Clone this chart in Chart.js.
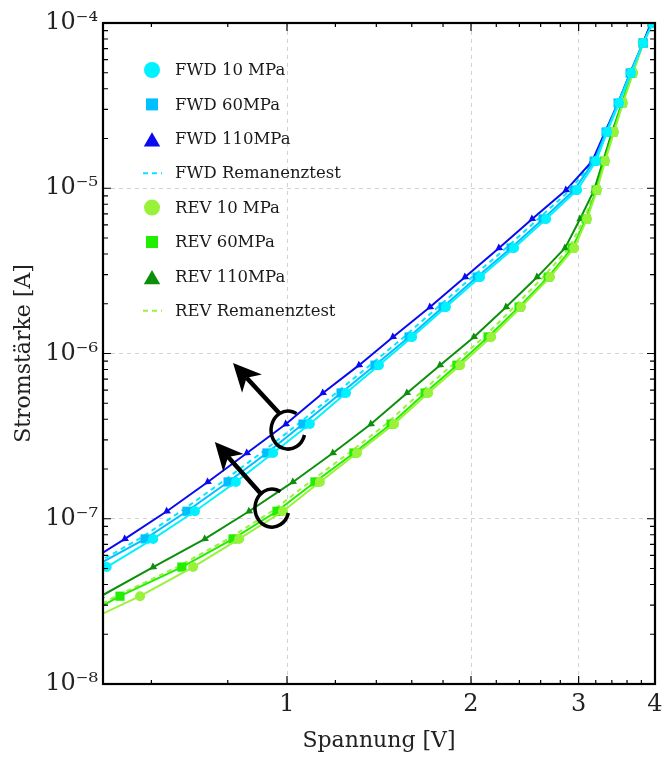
<!DOCTYPE html>
<html>
<head>
<meta charset="utf-8">
<script src="https://cdn.jsdelivr.net/npm/chart.js@4"></script>
<style>
  html, body { margin: 0; padding: 0; background: #fff; }
  canvas { display: block; }
</style>
</head>
<body>
<canvas id="kennlinie" width="662" height="760"></canvas>
<script>
// Stromstufen [A], gelten fuer alle Messreihen
const strom = [2.27e-8, 3.4e-8, 5.1e-8, 7.55e-8, 1.11e-7, 1.67e-7, 2.5e-7, 3.74e-7, 5.77e-7, 8.5e-7,
  1.26e-6, 1.91e-6, 2.9e-6, 4.35e-6, 6.52e-6, 9.75e-6, 1.46e-5, 2.19e-5, 3.28e-5, 4.98e-5, 7.57e-5, 1.0e-4];

// Spannung [V] je Messreihe (null = kein Messpunkt)
const fwd10  = [null, 0.43, 0.507, 0.604, 0.707, 0.825, 0.949, 1.090, 1.249, 1.414, 1.602, 1.820, 2.070, 2.352, 2.654, 2.983, 3.204, 3.340, 3.494, 3.656, 3.825, 3.972];
const fwd60  = [null, 0.41, 0.482, 0.586, 0.686, 0.801, 0.927, 1.062, 1.226, 1.393, 1.584, 1.800, 2.046, 2.326, 2.624, 2.950, 3.180, 3.327, 3.481, 3.642, 3.825, 3.958];
const fwd110 = [null, 0.39, 0.458, 0.543, 0.636, 0.742, 0.860, 0.996, 1.145, 1.312, 1.491, 1.714, 1.956, 2.223, 2.518, 2.861, 3.157, 3.315, 3.481, 3.642, 3.825, 3.942];
const fwdRem = [null, 0.40, 0.475, 0.573, 0.671, 0.783, 0.907, 1.042, 1.203, 1.367, 1.554, 1.766, 2.008, 2.283, 2.575, 2.906, 3.168, 3.315, 3.481, 3.642, 3.825, 3.958];
const rev10  = [0.455, 0.575, 0.702, 0.835, 0.985, 1.132, 1.302, 1.497, 1.702, 1.920, 2.158, 2.415, 2.694, 2.950, 3.097, 3.216, 3.315, 3.428, 3.546, 3.684, 3.825, 3.958];
const rev60  = [0.435, 0.533, 0.673, 0.816, 0.963, 1.111, 1.287, 1.480, 1.682, 1.897, 2.133, 2.397, 2.674, 2.928, 3.086, 3.204, 3.303, 3.415, 3.533, 3.669, 3.825, 3.958];
const rev110 = [0.42, 0.496, 0.604, 0.734, 0.867, 1.023, 1.189, 1.372, 1.572, 1.780, 2.023, 2.283, 2.566, 2.851, 3.016, 3.180, 3.290, 3.403, 3.533, 3.669, 3.825, 3.942];
const revRem = [0.43, 0.525, 0.661, 0.801, 0.945, 1.090, 1.263, 1.452, 1.651, 1.862, 2.101, 2.352, 2.624, 2.894, 3.063, 3.192, 3.290, 3.403, 3.533, 3.669, 3.825, 3.958];

// Achsenbeschriftung
const xHaupt = [1, 2, 3, 4];
const xTexte = ['1', '2', '3', '4'];
const yHaupt = [1e-8, 1e-7, 1e-6, 1e-5, 1e-4];
const yTexte = ['10\u207B\u2078', '10\u207B\u2077', '10\u207B\u2076', '10\u207B\u2075', '10\u207B\u2074'];

// Pfeile mit Schlaufe (Spitze, Schaftende, Mittelpunkt der Schlaufe) in Datenkoordinaten
const pfeile = [
  { spitze: [0.816, 8.76e-7], ende: [0.974, 4.31e-7], schlaufe: [1.004, 3.44e-7] },
  { spitze: [0.762, 2.91e-7], ende: [0.910, 1.39e-7], schlaufe: [0.945, 1.16e-7] }
];

const SCHRIFT = '"DejaVu Serif", "Liberation Serif", serif';

function punkte(spannung) {
  const out = [];
  spannung.forEach((v, i) => { if (v !== null) out.push({ x: v, y: strom[i] }); });
  return out;
}

function reihe(label, werte, farbe, form, radius, extra) {
  return Object.assign({
    label: label,
    data: punkte(werte),
    borderColor: farbe,
    backgroundColor: farbe,
    borderWidth: 2,
    pointStyle: form,
    pointRadius: radius,
    pointHoverRadius: radius,
    pointBorderWidth: 0,
    tension: 0
  }, extra || {});
}

function istHaupt(v, liste) {
  return liste.some(m => Math.abs(Math.log10(v) - Math.log10(m)) < 1e-6);
}

function symbol(ctx, ds, x, y) {
  ctx.save();
  ctx.fillStyle = ds.backgroundColor;
  ctx.strokeStyle = ds.borderColor;
  if (ds.pointRadius === 0) {
    ctx.lineWidth = 2;
    ctx.setLineDash([5, 4]);
    ctx.beginPath();
    ctx.moveTo(x - 9, y);
    ctx.lineTo(x + 10, y);
    ctx.stroke();
  } else if (ds.pointStyle === 'circle') {
    ctx.beginPath();
    ctx.arc(x, y, 8, 0, Math.PI * 2);
    ctx.fill();
  } else if (ds.pointStyle === 'rect') {
    ctx.fillRect(x - 6, y - 6, 12, 12);
  } else {
    const r = 9.5;
    ctx.beginPath();
    ctx.moveTo(x, y + 3 - r);
    ctx.lineTo(x + r * 0.866, y + 3 + r / 2);
    ctx.lineTo(x - r * 0.866, y + 3 + r / 2);
    ctx.closePath();
    ctx.fill();
  }
  ctx.restore();
}

const legende = {
  id: 'legende',
  afterDraw(chart) {
    const { ctx, chartArea } = chart;
    const x0 = chartArea.left + 49, y0 = chartArea.top + 47, schritt = 34.4;
    ctx.save();
    ctx.font = '16.5px ' + SCHRIFT;
    ctx.textBaseline = 'middle';
    ctx.textAlign = 'left';
    chart.data.datasets.forEach((ds, i) => {
      const y = y0 + i * schritt;
      symbol(ctx, ds, x0, y);
      ctx.fillStyle = '#1a1a1a';
      ctx.fillText(ds.label, x0 + 23, y + 1);
    });
    ctx.restore();
  }
};

// Rahmen und nach innen zeigende Striche auf allen vier Seiten
const rahmen = {
  id: 'rahmen',
  afterDraw(chart) {
    const { ctx, chartArea: a } = chart;
    const sx = chart.scales.x, sy = chart.scales.y;
    ctx.save();
    ctx.strokeStyle = '#000';
    ctx.lineWidth = 1.2;
    sx.ticks.forEach(t => {
      const p = sx.getPixelForValue(t.value);
      const l = istHaupt(t.value, xHaupt) ? 8 : 4;
      ctx.beginPath();
      ctx.moveTo(p, a.bottom); ctx.lineTo(p, a.bottom - l);
      ctx.moveTo(p, a.top); ctx.lineTo(p, a.top + l);
      ctx.stroke();
    });
    sy.ticks.forEach(t => {
      const p = sy.getPixelForValue(t.value);
      const l = istHaupt(t.value, yHaupt) ? 8 : 5;
      ctx.beginPath();
      ctx.moveTo(a.left, p); ctx.lineTo(a.left + l, p);
      ctx.moveTo(a.right, p); ctx.lineTo(a.right - l, p);
      ctx.stroke();
    });
    ctx.lineWidth = 2.2;
    ctx.strokeRect(a.left, a.top, a.right - a.left, a.bottom - a.top);
    ctx.restore();
  }
};

const pfeilPlugin = {
  id: 'pfeile',
  afterDatasetsDraw(chart) {
    const { ctx } = chart;
    const sx = chart.scales.x, sy = chart.scales.y;
    const px = p => [sx.getPixelForValue(p[0]), sy.getPixelForValue(p[1])];
    ctx.save();
    ctx.strokeStyle = '#000';
    ctx.fillStyle = '#000';
    pfeile.forEach(pf => {
      const [tx, ty] = px(pf.spitze);
      const [ex, ey] = px(pf.ende);
      const [cx, cy] = px(pf.schlaufe);
      const len = Math.hypot(tx - ex, ty - ey);
      const ux = (tx - ex) / len, uy = (ty - ey) / len;
      const nx = -uy, ny = ux;
      ctx.lineWidth = 4.5;
      ctx.lineCap = 'butt';
      ctx.beginPath();
      ctx.moveTo(ex, ey);
      ctx.lineTo(tx - ux * 20, ty - uy * 20);
      ctx.stroke();
      const bx = tx - ux * 28, by = ty - uy * 28;
      ctx.beginPath();
      ctx.moveTo(tx, ty);
      ctx.lineTo(bx + nx * 13.5, by + ny * 13.5);
      ctx.lineTo(tx - ux * 20, ty - uy * 20);
      ctx.lineTo(bx - nx * 13.5, by - ny * 13.5);
      ctx.closePath();
      ctx.fill();
      ctx.lineWidth = 3.5;
      ctx.beginPath();
      ctx.ellipse(cx, cy, 17, 19, 0, 15 * Math.PI / 180, 300 * Math.PI / 180);
      ctx.stroke();
    });
    ctx.restore();
  }
};

const xWerte = [];
for (let v = 0.6; v < 4.001; v += 0.2) xWerte.push(Math.round(v * 10) / 10);
const yWerte = [];
yHaupt.forEach((d, i) => {
  yWerte.push(d);
  if (i < yHaupt.length - 1) for (let k = 2; k <= 9; k++) yWerte.push(k * d);
});

new Chart(document.getElementById('kennlinie').getContext('2d'), {
  type: 'line',
  data: {
    datasets: [
      reihe('FWD 10 MPa', fwd10, '#00F2FF', 'circle', 5),
      reihe('FWD 60MPa', fwd60, '#00BFFF', 'rect', 6.5),
      reihe('FWD 110MPa', fwd110, '#0A0AF0', 'triangle', 4.5, { pointRotation: -125 }),
      reihe('FWD Remanenztest', fwdRem, '#00E8FF', 'circle', 0, { borderDash: [5, 4] }),
      reihe('REV 10 MPa', rev10, '#99F23A', 'circle', 5),
      reihe('REV 60MPa', rev60, '#22EE00', 'rect', 6.5),
      reihe('REV 110MPa', rev110, '#0C900C', 'triangle', 4.5, { pointRotation: -125 }),
      reihe('REV Remanenztest', revRem, '#99F23A', 'circle', 0, { borderDash: [5, 4] })
    ]
  },
  options: {
    responsive: false,
    animation: false,
    devicePixelRatio: 1,
    layout: { padding: { top: 23, right: 7, left: 0, bottom: 0 } },
    plugins: { legend: { display: false }, tooltip: { enabled: false } },
    scales: {
      x: {
        type: 'logarithmic',
        min: 0.5,
        max: 4,
        afterBuildTicks: s => { s.ticks = xWerte.map(v => ({ value: v })); },
        afterFit: s => { s.height = 76; s.paddingLeft = 0; s.paddingRight = 0; },
        grid: {
          drawTicks: false,
          color: c => (c.tick && istHaupt(c.tick.value, xHaupt) && c.tick.value < 3.9) ? '#d2d2d2' : 'rgba(0,0,0,0)'
        },
        border: { display: false, dash: [4, 4] },
        ticks: {
          autoSkip: false,
          maxRotation: 0,
          padding: 6,
          color: '#222',
          font: { family: SCHRIFT, size: 24 },
          callback: v => {
            const i = xHaupt.findIndex(m => Math.abs(m - v) < 1e-6);
            return i >= 0 ? xTexte[i] : '';
          }
        },
        title: {
          display: true,
          text: 'Spannung [V]',
          color: '#222',
          font: { family: SCHRIFT, size: 22 },
          padding: { top: 0, bottom: 6 }
        }
      },
      y: {
        type: 'logarithmic',
        min: 1e-8,
        max: 1e-4,
        afterBuildTicks: s => { s.ticks = yWerte.map(v => ({ value: v })); },
        afterFit: s => { s.width = 103; s.paddingTop = 0; s.paddingBottom = 0; },
        grid: {
          drawTicks: false,
          color: c => (c.tick && istHaupt(c.tick.value, yHaupt) && c.tick.value > 1.5e-8 && c.tick.value < 0.9e-4) ? '#d2d2d2' : 'rgba(0,0,0,0)'
        },
        border: { display: false, dash: [4, 4] },
        ticks: {
          autoSkip: false,
          padding: 5,
          color: '#222',
          font: { family: SCHRIFT, size: 24 },
          callback: v => {
            const i = yHaupt.findIndex(m => Math.abs(Math.log10(m) - Math.log10(v)) < 1e-6);
            return i >= 0 ? yTexte[i] : '';
          }
        },
        title: {
          display: true,
          text: 'Stromstärke [A]',
          color: '#222',
          font: { family: SCHRIFT, size: 22 },
          padding: { top: 11, bottom: 0 }
        }
      }
    }
  },
  plugins: [pfeilPlugin, rahmen, legende]
});
</script>
</body>
</html>
